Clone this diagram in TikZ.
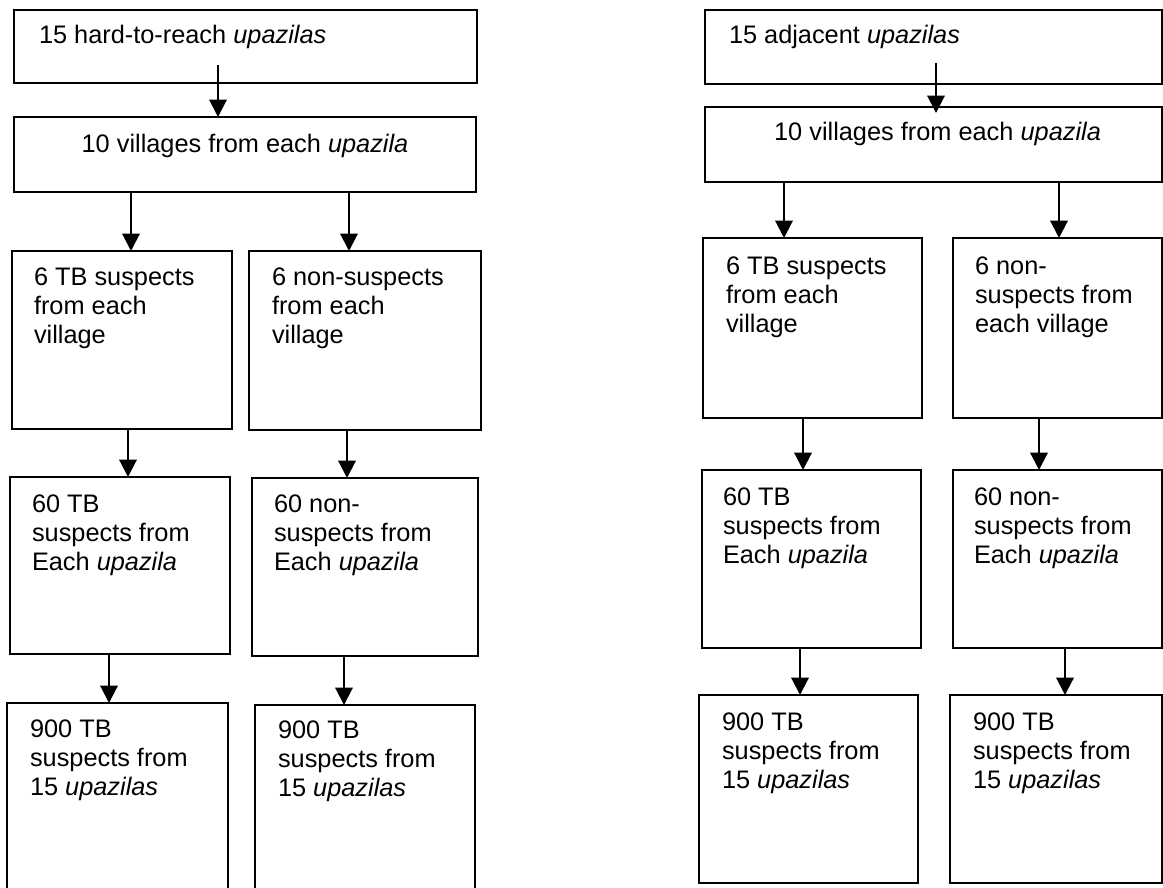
\documentclass[tikz,border=0pt]{standalone}
\usepackage{fontspec}
\setmainfont{Liberation Sans}
\usetikzlibrary{arrows.meta}
\tikzset{
 boxst/.style={draw, line width=1.8pt, inner sep=0pt, outer sep=0pt, rectangle},
 txt/.style={inner sep=0pt, outer sep=0pt, anchor=north west, align=left, font=\fontsize{19}{21.75}\selectfont},
 ctxt/.style={txt, anchor=north, align=center},
 arr/.style={line width=1.6pt, -{Triangle[length=13pt,width=13pt]}},
}
\newcommand\bx[5]{\node[boxst, minimum width={(#4-#2)*0.75pt}, minimum height={(#5-#3)*0.75pt}] (#1) at ({(#2+#4)/2},{(#3+#5)/2}) {};}
\begin{document}
\begin{tikzpicture}[x=0.75pt,y=-0.75pt]
\useasboundingbox (0,0) rectangle (1163,888);
% ---------- left column ----------
\bx{L1}{14}{10}{477}{83}
\bx{L2}{14}{117}{476}{192}
\bx{L3a}{12}{251}{232}{429}
\bx{L3b}{249}{251}{481}{430}
\bx{L4a}{10}{477}{230}{654}
\bx{L4b}{252}{478}{478}{656}
\bx{L5a}{7}{703}{228}{898}
\bx{L5b}{255}{705}{475}{898}
% ---------- right column ----------
\bx{R1}{705}{10}{1162}{84}
\bx{R2}{705}{107}{1162}{182}
\bx{R3a}{703}{238}{922}{418}
\bx{R3b}{953}{238}{1162}{418}
\bx{R4a}{702}{470}{921}{648}
\bx{R4b}{953}{470}{1162}{648}
\bx{R5a}{699}{695}{918}{883}
\bx{R5b}{950}{695}{1162}{883}
% ---------- texts ----------
\node[txt] (L1t) at ([shift={(25,15)}]L1.north west) {15 hard-to-reach \textit{upazilas}};
\node[ctxt] (L2t) at ([shift={(0,17)}]L2.north) {10 villages from each \textit{upazila}};
\node[txt] (L3at) at ([shift={(22,17)}]L3a.north west) {6 TB suspects\\from each\\village};
\node[txt] (L3bt) at ([shift={(23,17)}]L3b.north west) {6 non-suspects\\from each\\village};
\node[txt] (L4at) at ([shift={(22,18)}]L4a.north west) {60 TB\\suspects from\\Each \textit{upazila}};
\node[txt] (L4bt) at ([shift={(22,17)}]L4b.north west) {60 non-\\suspects from\\Each \textit{upazila}};
\node[txt] (L5at) at ([shift={(23,17)}]L5a.north west) {900 TB\\suspects from\\15 \textit{upazilas}};
\node[txt] (L5bt) at ([shift={(23,16)}]L5b.north west) {900 TB\\suspects from\\15 \textit{upazilas}};
\node[txt] (R1t) at ([shift={(24,15)}]R1.north west) {15 adjacent \textit{upazilas}};
\node[ctxt] (R2t) at ([shift={(4,15)}]R2.north) {10 villages from each \textit{upazila}};
\node[txt] (R3at) at ([shift={(23,19)}]R3a.north west) {6 TB suspects\\from each\\village};
\node[txt] (R3bt) at ([shift={(22,19)}]R3b.north west) {6 non-\\suspects from\\each village};
\node[txt] (R4at) at ([shift={(21,18)}]R4a.north west) {60 TB\\suspects from\\Each \textit{upazila}};
\node[txt] (R4bt) at ([shift={(21,18)}]R4b.north west) {60 non-\\suspects from\\Each \textit{upazila}};
\node[txt] (R5at) at ([shift={(23,18)}]R5a.north west) {900 TB\\suspects from\\15 \textit{upazilas}};
\node[txt] (R5bt) at ([shift={(23,18)}]R5b.north west) {900 TB\\suspects from\\15 \textit{upazilas}};
% ---------- arrows, left ----------
\coordinate (la1) at (218,65);
\draw[arr] (la1) -- (la1 |- L2.north);
\coordinate (la2) at (131,0);
\draw[arr] (la2 |- L2.south) -- (la2 |- L3a.north);
\coordinate (lb2) at (349,0);
\draw[arr] (lb2 |- L2.south) -- (lb2 |- L3b.north);
\coordinate (la3) at (128,0);
\draw[arr] (la3 |- L3a.south) -- (la3 |- L4a.north);
\coordinate (lb3) at (347,0);
\draw[arr] (lb3 |- L3b.south) -- (lb3 |- L4b.north);
\coordinate (la4) at (109,0);
\draw[arr] (la4 |- L4a.south) -- (la4 |- L5a.north);
\coordinate (lb4) at (344,0);
\draw[arr] (lb4 |- L4b.south) -- (lb4 |- L5b.north);
% ---------- arrows, right ----------
\coordinate (ra1) at (936,63);
\draw[arr, shorten >=-4.5pt] (ra1) -- (ra1 |- R2.north);
\coordinate (ra2) at (784,0);
\draw[arr] (ra2 |- R2.south) -- (ra2 |- R3a.north);
\coordinate (rb2) at (1059,0);
\draw[arr] (rb2 |- R2.south) -- (rb2 |- R3b.north);
\coordinate (ra3) at (803,0);
\draw[arr] (ra3 |- R3a.south) -- (ra3 |- R4a.north);
\coordinate (rb3) at (1039,0);
\draw[arr] (rb3 |- R3b.south) -- (rb3 |- R4b.north);
\coordinate (ra4) at (800,0);
\draw[arr] (ra4 |- R4a.south) -- (ra4 |- R5a.north);
\coordinate (rb4) at (1065,0);
\draw[arr] (rb4 |- R4b.south) -- (rb4 |- R5b.north);
\end{tikzpicture}
\end{document}
